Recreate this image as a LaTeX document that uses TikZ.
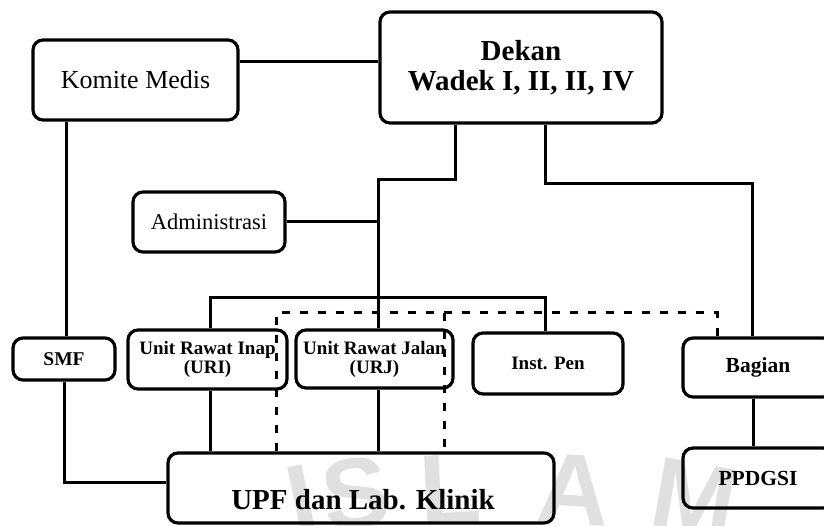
\documentclass[tikz,border=0pt]{standalone}
\usepackage{fontspec}
\setmainfont{Liberation Serif}
\newfontfamily\markfont{Liberation Sans}
\begin{document}
\begin{tikzpicture}[x=1pt,y=-1pt,
  conn/.style={line width=3pt},
  dashline/.style={line width=3pt, dash pattern=on 8pt off 10pt},
  box/.style={draw, line width=3.2pt, rounded corners=10pt, inner sep=0pt, align=center},
  wm/.style={text=black!12, font=\markfont\bfseries\fontsize{100}{100}\selectfont, inner sep=0pt},
]
\useasboundingbox (0,0) rectangle (824,526);
\clip (0,0) rectangle (824,526);

% faint background seal lettering
\node[wm, rotate=12]  (wmI) at (302,500) {I};
\node[wm, rotate=8]   (wmS) at (356,494) {S};
\node[wm, rotate=3]   (wmL) at (450,490) {L};
\node[wm, rotate=-4]  (wmA) at (574,490) {A};
\node[wm, rotate=-10] (wmM) at (694,498) {M};

% boxes
\node[box, minimum width=205pt, minimum height=80pt, font=\fontsize{26}{28}\selectfont]
  (komite) at (135.5,80) {Komite Medis};
\node[box, minimum width=282pt, minimum height=111pt, font=\bfseries\fontsize{29}{30}\selectfont]
  (dekan) at (521,67.5) {Dekan\\Wadek I, II, II, IV};
\node[box, minimum width=152pt, minimum height=60pt, font=\fontsize{22.5}{24}\selectfont]
  (admin) at (209,222) {Administrasi};
\node[box, minimum width=102pt, minimum height=42pt, font=\bfseries\fontsize{19.5}{20}\selectfont]
  (smf) at (64,359) {SMF};
\node[box, minimum width=159pt, minimum height=59pt, font=\bfseries\fontsize{19}{19}\selectfont]
  (uri) at (207.5,359.5) {Unit Rawat Inap\\(URI)};
\node[box, minimum width=157pt, minimum height=58pt, font=\bfseries\fontsize{19}{19}\selectfont]
  (urj) at (374.5,359) {Unit Rawat Jalan\\(URJ)};
\node[box, minimum width=150pt, minimum height=61pt, font=\bfseries\fontsize{19}{20}\selectfont]
  (inst) at (548,363.5) {Inst. Pen};
\node[box, minimum width=150pt, minimum height=59pt, font=\bfseries\fontsize{21.5}{22}\selectfont]
  (bagian) at (758,367.5) {Bagian};
\node[box, minimum width=150pt, minimum height=60pt, font=\bfseries\fontsize{21.5}{22}\selectfont]
  (ppdgsi) at (758,478) {PPDGSI};
\node[box, minimum width=386pt, minimum height=70pt] (upf) at (361,488) {};
\node[font=\bfseries\fontsize{29}{30}\selectfont, inner sep=0pt]
  (upflabel) at (363,500) {UPF dan Lab. Klinik};

% junction points
\coordinate (j1) at (378,180);
\coordinate (j2) at (752,184);
\coordinate (busr) at (545,298);
\coordinate (dashr) at (717,313);
\coordinate (dashm) at (444,313);

% solid connectors
\draw[conn] (komite.east |- 0,62) -- (dekan.west |- 0,62);
\draw[conn] (komite.south -| 66,0) -- (smf.north -| 66,0);
\draw[conn] (smf.south -| 64,0) |- (upf.west |- 0,482);
\draw[conn] (dekan.south -| 455,0) |- (j1) -- (urj.north -| j1);
\draw[conn] (admin.east) -- (admin.east -| j1);
\draw[conn] (uri.north -| 210,0) |- (busr) -- (inst.north -| busr);
\draw[conn] (dekan.south -| 545,0) |- (j2) -- (bagian.north -| j2);
\draw[conn] (uri.south -| 210,0) -- (upf.north -| 210,0);
\draw[conn] (urj.south -| j1) -- (upf.north -| j1);
\draw[conn] (bagian.south -| 753,0) -- (ppdgsi.north -| 753,0);

% dashed connectors
\draw[dashline] (upf.north -| 276,0) |- (dashr) -- (bagian.north -| dashr);
\draw[dashline] (dashm) -- (upf.north -| dashm);
\end{tikzpicture}
\end{document}
